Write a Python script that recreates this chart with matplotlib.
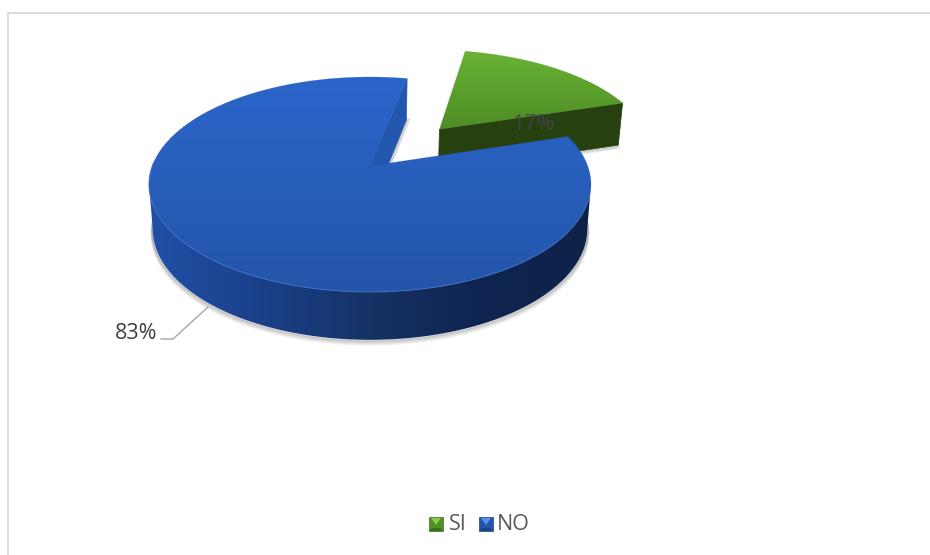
import numpy as np
import matplotlib
matplotlib.use("Agg")
import matplotlib.pyplot as plt
from matplotlib.colors import LinearSegmentedColormap
from matplotlib.patches import Polygon

plt.rcParams["font.family"] = ["Open Sans", "DejaVu Sans"]

# Chart data
categories = ["SI", "NO"]
values = [17, 83]
value_labels = ["17%", "83%"]

# Pie projection: plane coordinates (u right, v towards the back) to pixels
START_ANGLE = 11.5
EXPLODE = 0.507
PERSPECTIVE = 0.172
CENTER_X = 370.0
TOP_Y, BOTTOM_Y = 166.0, 210.0
TOP_SX, TOP_SY = 217.7, 104.3
BOTTOM_SX, BOTTOM_SY = 214.0, 107.5


def project(u, v, level):
    w = 1 + PERSPECTIVE * np.asarray(v, dtype=float)
    if level == "top":
        return CENTER_X + TOP_SX * np.asarray(u) / w, TOP_Y - TOP_SY * np.asarray(v) / w
    return CENTER_X + BOTTOM_SX * np.asarray(u) / w, BOTTOM_Y - BOTTOM_SY * np.asarray(v) / w


def rim(a0, a1, ou=0.0, ov=0.0, n=360):
    t = np.radians(np.linspace(a0, a1, n))
    return ou + np.sin(t), ov + np.cos(t)


def poly(xs, ys):
    return np.column_stack([xs, ys])


def gradient_fill(ax, vertices, stops, zorder, horizontal=False, edge=True):
    # Colour ramp clipped to a polygon
    cmap = LinearSegmentedColormap.from_list("ramp", stops)
    y0, y1 = vertices[:, 1].min(), vertices[:, 1].max()
    x0, x1 = vertices[:, 0].min(), vertices[:, 0].max()
    ramp = np.linspace(0, 1, 256)
    ramp = ramp[None, :] if horizontal else ramp[:, None]
    img = ax.imshow(ramp, extent=(x0, x1, y1, y0), cmap=cmap, aspect="auto",
                    zorder=zorder, interpolation="bilinear")
    img.set_clip_path(Polygon(vertices, closed=True, transform=ax.transData))
    if edge:
        ax.add_patch(Polygon(vertices, closed=True, fc="none", ec=stops[-1], lw=0.3,
                             alpha=0.5, zorder=zorder))


fig = plt.figure(figsize=(9.3, 5.55), dpi=100)
ax = fig.add_axes([0, 0, 1, 1])

# Chart frame: only the top and left rules fall inside the canvas
ax.plot([8, 8, 930], [555, 13, 13], color="#dcdcdc", lw=1.4, zorder=1, solid_joinstyle="miter")

shares = np.array(values, dtype=float) / sum(values) * 360
si_start, si_end = START_ANGLE, START_ANGLE + shares[0]
no_start, no_end = si_end, si_end + shares[1]

# Green slice, pulled out along its bisector
mid = np.radians((si_start + si_end) / 2)
ou, ov = EXPLODE * np.sin(mid), EXPLODE * np.cos(mid)
ru, rv = rim(si_start, si_end, ou, ov)

# Soft shadow under the pulled-out slice
for off, alpha in [(3, 0.10), (2, 0.16), (1, 0.22)]:
    bx, by = project(np.array([ou, ru[-1]]), np.array([ov, rv[-1]]), "bottom")
    ax.plot(bx, by + off, color="#707070", alpha=alpha, lw=1.5, zorder=2)

fx = np.r_[project(ou, ov, "top")[0], project(ru[-1], rv[-1], "top")[0],
           project(ru[-1], rv[-1], "bottom")[0], project(ou, ov, "bottom")[0]]
fy = np.r_[project(ou, ov, "top")[1], project(ru[-1], rv[-1], "top")[1],
           project(ru[-1], rv[-1], "bottom")[1], project(ou, ov, "bottom")[1]]
ax.add_patch(Polygon(poly(fx, fy), closed=True, fc="#27400f", ec="#27400f", lw=0.5, zorder=3))

tx, ty = project(np.r_[ou, ru], np.r_[ov, rv], "top")
gradient_fill(ax, poly(tx, ty), ["#69b335", "#4e8c25"], 4)

# Blue slice: cut face, curved side, shadow and top
nu, nv = rim(no_start, no_end)

# Shadow hugging the lower rim
su, sv = rim(95, 268)
sx, sy = project(su, sv, "bottom")
for off, alpha in [(5.0, 0.06), (4.0, 0.09), (3.0, 0.13), (2.0, 0.18), (1.0, 0.24)]:
    ax.plot(sx + off * 0.3 * su, sy + off, color="#5e5e5e", alpha=alpha,
            lw=1.4, zorder=5, solid_capstyle="round")

# Cut face seen through the gap between the two slices
cx = np.r_[project(0, 0, "top")[0], project(nu[-1], nv[-1], "top")[0],
           project(nu[-1], nv[-1], "bottom")[0], project(0, 0, "bottom")[0]]
cy = np.r_[project(0, 0, "top")[1], project(nu[-1], nv[-1], "top")[1],
           project(nu[-1], nv[-1], "bottom")[1], project(0, 0, "bottom")[1]]
for off, alpha in [(3, 0.10), (2, 0.16), (1, 0.22)]:
    ax.plot(cx[2:] + off, cy[2:], color="#707070", alpha=alpha, lw=1.5, zorder=5)
ax.add_patch(Polygon(poly(cx, cy), closed=True, fc="#2356ad", ec="#2356ad", lw=0.4, zorder=6))

# Curved side, shaded from left to right; the outline runs between the
# two rim points where the top face reaches its widest extent
au, av = rim(no_start, 290, n=800)
top_x, top_y = project(au, av, "top")
bot_x, bot_y = project(au, av, "bottom")
i0, i1 = int(np.argmax(top_x)), int(np.argmin(top_x))
side = poly(np.r_[top_x[i0:i1 + 1], bot_x[i0:i1 + 1][::-1]],
            np.r_[top_y[i0:i1 + 1], bot_y[i0:i1 + 1][::-1]])
gradient_fill(ax, side, ["#2050a6", "#1b4089", "#163266", "#0f2450", "#0e2249"], 7,
              horizontal=True, edge=False)

# Top face
tx, ty = project(np.r_[0, nu], np.r_[0, nv], "top")
gradient_fill(ax, poly(tx, ty), ["#2b65cb", "#2455a8"], 8)

# Thin highlight along the front rim
hu, hv = rim(125, 272)
hx, hy = project(hu, hv, "top")
ax.plot(hx, hy, color="#3c70c8", lw=0.8, alpha=0.75, zorder=9)

# Data labels
ax.text(533, 124.5, value_labels[0], fontsize=15.5, color="#45444a", ha="center", va="center",
        alpha=0.85, zorder=10)
ax.text(136, 333.5, value_labels[1], fontsize=15.5, color="#404040", ha="center", va="center", zorder=10)
ax.plot([161, 173, 208], [339, 339, 307], color="#a6a6a6", lw=1.0, zorder=10)

# Legend with bevelled keys
key_colors = [("#4f8f25", "#86cc50", "#3c6f1c"), ("#2455a8", "#5b90e6", "#1c4489")]
key_lefts = [429, 479]
text_lefts = [448.5, 497]
KEY, KEY_TOP = 14, 517
for left, tleft, name, (base, light, dark) in zip(key_lefts, text_lefts, categories, key_colors):
    x0, x1, y0, y1 = left, left + KEY, KEY_TOP, KEY_TOP + KEY
    xc, yc = (x0 + x1) / 2, (y0 + y1) / 2
    ax.add_patch(Polygon([(x0, y0), (x1, y0), (x1, y1), (x0, y1)], fc=base, ec=dark, lw=0.5, zorder=10))
    ax.add_patch(Polygon([(x0 + 2, y0 + 1), (x1 - 2, y0 + 1), (xc, yc + 1)], fc=light, ec="none", zorder=11))
    ax.add_patch(Polygon([(x0, y1), (x1, y1), (x1 - 3, y1 - 3), (x0 + 3, y1 - 3)], fc=dark, ec="none", zorder=11))
    ax.text(tleft, 524, name, fontsize=15.5, color="#595959", ha="left", va="center", zorder=10)

ax.set_xlim(0, 930)
ax.set_ylim(555, 0)
ax.axis("off")
fig.savefig("out.png", dpi=100, facecolor="white")
